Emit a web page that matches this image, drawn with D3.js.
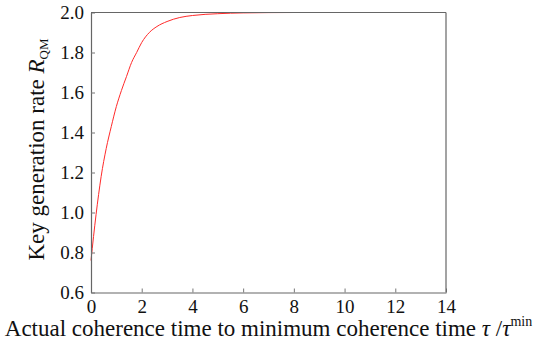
<!DOCTYPE html>
<html>
<head>
<meta charset="utf-8">
<script src="https://cdn.jsdelivr.net/npm/d3@7"></script>
<style>
  body { margin: 0; background: #fff; }
  text { font-family: "Liberation Serif", "DejaVu Serif", serif; fill: #111; }
</style>
</head>
<body>
<div id="chart"></div>
<script>
// values
let ratio = [0, 0.1, 0.2, 0.3, 0.4, 0.6, 0.8, 1.0, 1.2, 1.4, 1.6, 1.8, 2.0, 2.3, 2.6, 3.0, 3.5, 4.0, 5.0, 6.0, 8.0, 10.0, 12.0, 14.0];
let rate = [0.76, 0.88, 0.99, 1.09, 1.18, 1.32, 1.43, 1.53, 1.61, 1.68, 1.75, 1.80, 1.85, 1.90, 1.93, 1.955, 1.975, 1.985, 1.994, 1.998, 2.0, 2.0, 2.0, 2.0];
let xTicks = [0, 2, 4, 6, 8, 10, 12, 14];
let yTicks = [0.6, 0.8, 1.0, 1.2, 1.4, 1.6, 1.8, 2.0];

let width = 534, height = 346;
let margin = {top: 12.5, right: 88, bottom: 53.5, left: 91};

let svg = d3.select("#chart")
    .append("svg")
    .attr("width", width)
    .attr("height", height);

let x = d3.scaleLinear().domain([0, 14]).range([margin.left, width - margin.right]);
let y = d3.scaleLinear().domain([0.6, 2.0]).range([height - margin.bottom, margin.top]);

let points = ratio.map((d, i) => [d, rate[i]]);

// curve
let line = d3.line()
    .x(d => x(d[0]))
    .y(d => y(d[1]))
    .curve(d3.curveMonotoneX);

svg.append("path")
    .datum(points)
    .attr("fill", "none")
    .attr("stroke", "#ff2a2a")
    .attr("stroke-width", 1)
    .attr("d", line);

// bottom axis
let xAxis = svg.append("g")
    .attr("transform", `translate(0,${height - margin.bottom})`)
    .call(d3.axisBottom(x).tickValues(xTicks).tickSizeInner(-4).tickSizeOuter(0).tickPadding(7).tickFormat(d3.format("d")));

// left axis
let yAxis = svg.append("g")
    .attr("transform", `translate(${margin.left},0)`)
    .call(d3.axisLeft(y).tickValues(yTicks).tickSizeInner(-4).tickSizeOuter(0).tickPadding(7).tickFormat(d3.format(".1f")));

[xAxis, yAxis].forEach(g => {
    g.select(".domain").attr("stroke", "#666").attr("stroke-width", 1.2);
    g.selectAll(".tick line").attr("stroke", "#777");
    g.selectAll(".tick text")
        .attr("font-family", "Liberation Serif, DejaVu Serif, serif")
        .attr("font-size", 19)
        .attr("fill", "#111");
});
yAxis.selectAll(".tick text").attr("dy", "0.34em");

// top and right frame
svg.append("line")
    .attr("x1", x(0)).attr("x2", x(14))
    .attr("y1", y(2.0)).attr("y2", y(2.0))
    .attr("stroke", "#666").attr("stroke-width", 1.2);
svg.append("line")
    .attr("x1", x(14)).attr("x2", x(14))
    .attr("y1", y(2.0)).attr("y2", y(0.6))
    .attr("stroke", "#666").attr("stroke-width", 1.2);

// x label
let xl = svg.append("text")
    .attr("x", (x(0) + x(14)) / 2)
    .attr("y", 336)
    .attr("text-anchor", "middle")
    .attr("font-size", 23);
xl.append("tspan").text("Actual coherence time to minimum coherence time ");
xl.append("tspan").attr("font-style", "italic").text("τ");
xl.append("tspan").text(" /");
xl.append("tspan").attr("font-style", "italic").text("τ");
xl.append("tspan").attr("font-size", 14).attr("dy", -10).text("min");

// y label
let yl = svg.append("text")
    .attr("transform", `translate(44,${(y(0.6) + y(2.0)) / 2 - 3}) rotate(-90)`)
    .attr("text-anchor", "middle")
    .attr("font-size", 23);
yl.append("tspan").text("Key generation rate ");
yl.append("tspan").attr("font-style", "italic").text("R");
yl.append("tspan").attr("font-size", 13).attr("dy", 4).text("QM");
</script>
</body>
</html>
